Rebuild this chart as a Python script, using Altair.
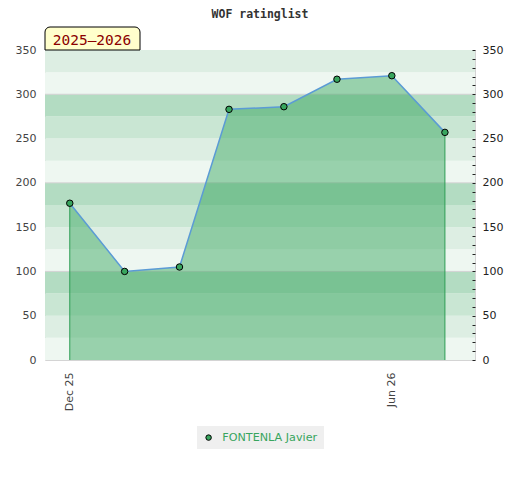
import altair as alt
import pandas as pd

title_text = "WOF ratinglist"
season_label = "2025–2026"
player = "FONTENLA Javier"
dates = ["2025-12-01", "2026-01-01", "2026-02-01", "2026-03-01",
         "2026-04-01", "2026-05-01", "2026-06-01", "2026-07-01"]
ratings = [177, 100, 105, 283, 286, 317, 321, 257]

x_domain = ["2025-11-17", "2026-07-18"]
x_tick_dates = ["2025-12-01", "2026-06-01"]
y_domain = [0, 350]
left_ticks = [0, 50, 100, 150, 200, 250, 300, 350]
right_ticks = list(range(0, 351, 10))
band_starts = list(range(0, 350, 25))
band_levels = [0, 1, 2, 3, 0, 1, 2, 3, 0, 1, 2, 3, 0, 1]
grid_values = [100, 200, 300]

band_palette = ["#eef7f1", "#ddeee3", "#c9e6d3", "#b3dcc2"]
GREEN = "#38a55e"
W, H = 430, 310


def dt(s):
    y, m, d = map(int, s.split("-"))
    return alt.DateTime(year=y, month=m, date=d, utc=True)


df = pd.DataFrame({"date": dates, "rating": ratings, "player": [player] * len(dates)})
edges = df.iloc[[0, len(df) - 1]].copy()
edges["base"] = 0
bands = pd.DataFrame({"lo": band_starts, "hi": [b + 25 for b in band_starts], "level": band_levels})
grid = pd.DataFrame({"v": grid_values})
lab = pd.DataFrame({"label": [season_label]})

xscale = alt.Scale(type="utc", domain=[dt(x_domain[0]), dt(x_domain[1])])
yscale = alt.Scale(domain=y_domain, nice=False, zero=True)

xaxis = alt.Axis(values=[dt(v) for v in x_tick_dates], format="%b %y", labelAngle=-90,
                 ticks=False, domain=False, grid=False, labelPadding=12, title=None,
                 labelColor="#444", labelFontSize=11, labelFont="DejaVu Sans")
left_axis = alt.Axis(orient="left", values=left_ticks, ticks=False, domain=False, grid=False,
                     title=None, labelPadding=9, labelColor="#444", labelFontSize=11,
                     labelFont="DejaVu Sans")
right_axis = alt.Axis(orient="right", values=right_ticks,
                      labelExpr="datum.value % 50 === 0 ? datum.label : ''",
                      labelOverlap=False, tickSize=3, offset=-3, domain=False, grid=False,
                      title=None, labelPadding=7, tickColor="#222", labelColor="#222",
                      labelFontSize=11, labelFont="DejaVu Sans", zindex=1)

band_layer = alt.Chart(bands).mark_rect().encode(
    x=alt.value(0), x2=alt.value(W),
    y=alt.Y("lo:Q", scale=yscale, axis=left_axis), y2="hi:Q",
    fill=alt.Fill("level:O", scale=alt.Scale(domain=[0, 1, 2, 3], range=band_palette), legend=None),
)

grid_layer = alt.Chart(grid).mark_rule(color="#d2d2d2", strokeWidth=1).encode(
    y=alt.Y("v:Q", scale=yscale, axis=None),
    x=alt.value(0), x2=alt.value(W),
)

area_layer = alt.Chart(df).mark_area(color=GREEN, opacity=0.47).encode(
    x=alt.X("date:T", scale=xscale, axis=xaxis),
    y=alt.Y("rating:Q", scale=yscale, axis=right_axis),
)

edge_layer = alt.Chart(edges).mark_rule(color="#2e9e55", strokeWidth=1).encode(
    x=alt.X("date:T", scale=xscale, axis=xaxis),
    y=alt.Y("rating:Q", scale=yscale, axis=None),
    y2="base:Q",
)

line_layer = alt.Chart(df).mark_line(color="#5b9bd5", strokeWidth=1.5).encode(
    x=alt.X("date:T", scale=xscale, axis=xaxis),
    y=alt.Y("rating:Q", scale=yscale, axis=None),
)

point_layer = alt.Chart(df).mark_point(filled=True, size=42, stroke="black", strokeWidth=1,
                                       opacity=1).encode(
    x=alt.X("date:T", scale=xscale, axis=xaxis),
    y=alt.Y("rating:Q", scale=yscale, axis=None),
    color=alt.Color("player:N", scale=alt.Scale(domain=[player], range=[GREEN]),
                    legend=alt.Legend(title=None, orient="none", legendX=152, legendY=376,
                                      fillColor="#efefef", padding=6, labelOffset=8,
                                      labelColor=GREEN, labelFont="DejaVu Sans",
                                      labelFontSize=11.2,
                                      symbolType="circle", symbolSize=30,
                                      symbolStrokeColor="black", symbolStrokeWidth=1,
                                      symbolFillColor=GREEN)),
)

box_layer = alt.Chart(lab).mark_rect(fill="#ffffcc", stroke="black", strokeWidth=1,
                                     cornerRadiusTopLeft=5, cornerRadiusTopRight=5).encode(
    x=alt.value(0), x2=alt.value(95), y=alt.value(-23), y2=alt.value(0),
)
text_layer = alt.Chart(lab).mark_text(font="DejaVu Sans Mono", fontSize=14.5, color="#8b0000",
                                      align="center", baseline="alphabetic").encode(
    x=alt.value(47), y=alt.value(-5), text="label:N",
)

chart = alt.layer(
    band_layer, grid_layer, area_layer, edge_layer, line_layer, point_layer, box_layer, text_layer
).resolve_scale(y="independent", color="independent", fill="independent").properties(
    width=W, height=H,
    title=alt.TitleParams(title_text, font="DejaVu Sans Mono", fontSize=11.5, fontWeight="bold",
                          color="#333", anchor="middle", offset=6),
    autosize=alt.AutoSizeParams(type="none"),
    padding={"left": 37, "top": 42, "right": 37, "bottom": 112},
).configure_view(stroke="#d4d4d4", strokeWidth=1)

chart.save("out.html", embed_options={"renderer": "svg", "actions": False})
